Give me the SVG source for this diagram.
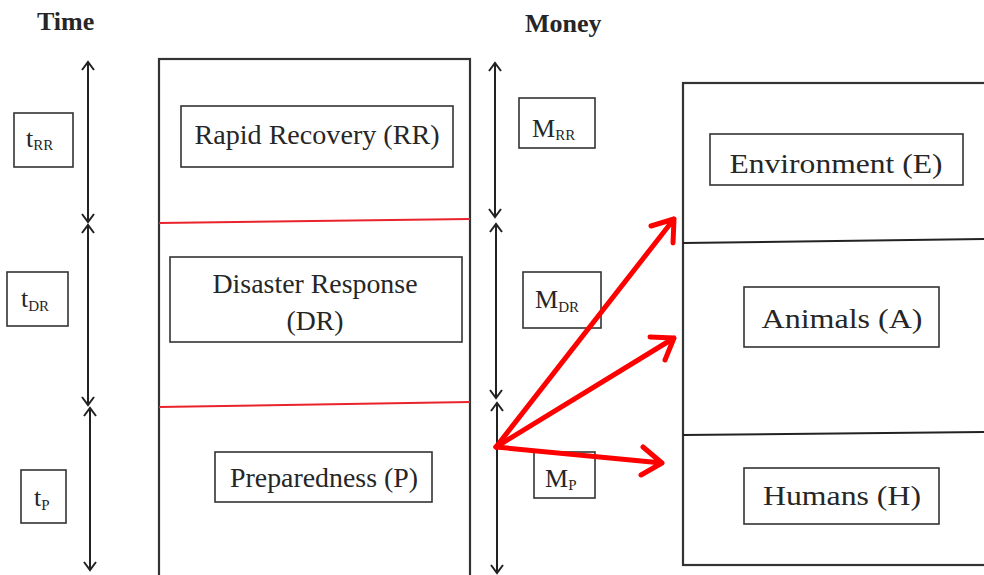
<svg xmlns="http://www.w3.org/2000/svg" width="984" height="575" viewBox="0 0 984 575">
<defs>
<style>
text{font-family:"Liberation Serif","Times New Roman",serif;fill:#262626;}
.lbl{font-size:28px;}
.hdr{font-size:26px;font-weight:bold;}
.sym{font-size:26px;}
.sub{font-size:15px;}
.box{fill:#fff;stroke:#333;stroke-width:1.6;}
.frame{fill:none;stroke:#333;stroke-width:2.2;}
.div{stroke:#e8232b;stroke-width:2;fill:none;}
.divk{stroke:#222;stroke-width:2;fill:none;}
.red{stroke:#f00;stroke-width:5;fill:none;stroke-linecap:round;stroke-linejoin:round;}
</style>
</defs>
<rect width="984" height="575" fill="#fff"/>

<g id="headers">
<text class="hdr" x="37" y="30">Time</text>
<text class="hdr" x="525" y="32">Money</text>
</g>

<g id="phases-frame">
<rect class="frame" x="159" y="59" width="311" height="520"/>
<line class="div" x1="159" y1="223" x2="470" y2="219"/>
<line class="div" x1="159" y1="407" x2="470" y2="402"/>
</g>

<g id="node-rr">
<rect class="box" x="181" y="106" width="272" height="61"/>
<text class="lbl" x="317" y="144" text-anchor="middle" textLength="245" lengthAdjust="spacingAndGlyphs">Rapid Recovery (RR)</text>
</g>
<g id="node-dr">
<rect class="box" x="170" y="257" width="292" height="85"/>
<text class="lbl" x="315" y="293" text-anchor="middle" textLength="205" lengthAdjust="spacingAndGlyphs">Disaster Response</text>
<text class="lbl" x="315" y="330" text-anchor="middle" textLength="57" lengthAdjust="spacingAndGlyphs">(DR)</text>
</g>
<g id="node-p">
<rect class="box" x="215" y="452" width="217" height="50"/>
<text class="lbl" x="324" y="487" text-anchor="middle" textLength="188" lengthAdjust="spacingAndGlyphs">Preparedness (P)</text>
</g>

<g id="node-trr">
<rect class="box" x="14" y="113" width="59" height="54"/>
<text class="sym" x="26" y="147">t<tspan class="sub" dy="3">RR</tspan></text>
</g>
<g id="node-tdr">
<rect class="box" x="7" y="272" width="61" height="54"/>
<text class="sym" x="21" y="307">t<tspan class="sub" dy="4">DR</tspan></text>
</g>
<g id="node-tp">
<rect class="box" x="21" y="470" width="45" height="53"/>
<text class="sym" x="34" y="506">t<tspan class="sub" dy="4">P</tspan></text>
</g>

<g id="node-mrr">
<rect class="box" x="519" y="98" width="76" height="50"/>
<text class="sym" x="532" y="137">M<tspan class="sub" dy="3">RR</tspan></text>
</g>
<g id="node-mdr">
<rect class="box" x="523" y="272" width="78" height="56"/>
<text class="sym" x="535" y="308">M<tspan class="sub" dy="4">DR</tspan></text>
</g>
<g id="node-mp">
<rect class="box" x="534" y="452" width="61" height="46"/>
<text class="sym" x="545" y="487">M<tspan class="sub" dy="3">P</tspan></text>
</g>

<g id="targets-frame">
<rect class="frame" x="683" y="83" width="310" height="482"/>
<line class="divk" x1="683" y1="243" x2="984" y2="239"/>
<line class="divk" x1="683" y1="435" x2="984" y2="432"/>
</g>
<g id="node-e">
<rect class="box" x="710" y="134" width="253" height="51"/>
<text class="lbl" x="836" y="173" text-anchor="middle" textLength="213" lengthAdjust="spacingAndGlyphs">Environment (E)</text>
</g>
<g id="node-a">
<rect class="box" x="744" y="287" width="195" height="60"/>
<text class="lbl" x="842" y="328" text-anchor="middle" textLength="161" lengthAdjust="spacingAndGlyphs">Animals (A)</text>
</g>
<g id="node-h">
<rect class="box" x="744" y="468" width="195" height="56"/>
<text class="lbl" x="842" y="505" text-anchor="middle" textLength="158" lengthAdjust="spacingAndGlyphs">Humans (H)</text>
</g>

<g id="connectors">
<g id="time-arrows" stroke="#222" stroke-width="2" fill="none">
<line x1="88" y1="63" x2="88" y2="221"/>
<path d="M82,70 L88,62 L94,70 M82,214 L88,222 L94,214"/>
<line x1="88" y1="226" x2="88" y2="404"/>
<path d="M82,233 L88,225 L94,233 M82,397 L88,405 L94,397"/>
<line x1="90" y1="409" x2="90" y2="569"/>
<path d="M84,416 L90,408 L96,416 M84,562 L90,570 L96,562"/>
</g>
<g id="money-arrows" stroke="#222" stroke-width="2" fill="none">
<line x1="495" y1="64" x2="495" y2="216"/>
<path d="M489,71 L495,63 L501,71 M489,209 L495,217 L501,209"/>
<line x1="496" y1="225" x2="496" y2="397"/>
<path d="M490,232 L496,224 L502,232 M490,390 L496,398 L502,390"/>
<line x1="497" y1="404" x2="497" y2="572"/>
<path d="M491,411 L497,403 L503,411 M491,565 L497,573 L503,565"/>
</g>
<g id="red-arrows">
<path class="red" d="M496,447 L674,219 M651,226 L674,219 L673,243"/>
<path class="red" d="M496,447 L674,338 M650,337 L674,338 L665,360"/>
<path class="red" d="M496,447 L662,463 M643,447 L662,463 L641,475"/>
</g>
</g>
</svg>
